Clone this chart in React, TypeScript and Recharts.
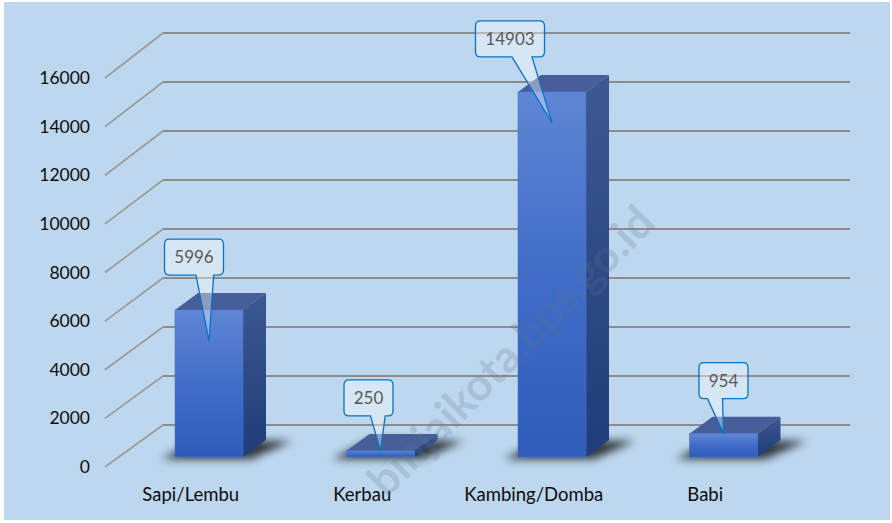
import React from 'react';
import { BarChart, Bar, XAxis, YAxis, CartesianGrid, LabelList } from 'recharts';

const categories = ['Sapi/Lembu', 'Kerbau', 'Kambing/Domba', 'Babi'];
const values = [5996, 250, 14903, 954];
const yTicks = [0, 2000, 4000, 6000, 8000, 10000, 12000, 14000, 16000];

// horizontal nudge of each callout box relative to its bar
const calloutShift = [-15, -12, -42, 0];

const data = categories.map((name, i) => ({ name, value: values[i] }));

const W = 892;
const H = 523;
const PLOT_BOTTOM = 457;
const DX = 23; // bar depth
const DY = 17;
const FONT = 'Lato, "Open Sans", sans-serif';

// front wall (labels) sits slightly lower/left of the bar plane, back wall higher/right
const frontY = (y: number) => 467 - (PLOT_BOTTOM - y) * (389 / 392);

function GridLine(props: any) {
  const y = props.y1;
  const yb = y - 32;
  return (
    <g key={props.key ?? props.index}>
      <line x1={105} y1={frontY(y)} x2={163} y2={yb} stroke="#9a9a9a" strokeWidth={1.6} />
      <line x1={163} y1={yb} x2={850} y2={yb} stroke="#8c8c8c" strokeWidth={2.2} />
    </g>
  );
}

function YTick(props: any) {
  const { y, payload } = props;
  return (
    <text x={90} y={frontY(y) + 6} textAnchor="end" fontFamily={FONT} fontSize={17.5} fill="#0d0d0d">
      {payload.value}
    </text>
  );
}

function XTick(props: any) {
  const { x, payload } = props;
  return (
    <text x={x - 18} y={501} textAnchor="middle" fontFamily={FONT} fontSize={18.5} fill="#0d0d0d">
      {payload.value}
    </text>
  );
}

function Bar3D(props: any) {
  const { x, y, width: w, height: h } = props;
  const b = y + h;
  return (
    <g>
      <polygon
        points={`${x - 14},${b + 2} ${x + w + 8},${b + 2} ${x + w + DX + 26},${b - DY + 1} ${x + DX},${b - DY}`}
        fill="#000"
        opacity={0.75}
        filter="url(#shadowBlur)"
      />
      <polygon
        points={`${x},${y} ${x + DX},${y - DY} ${x + w + DX},${y - DY} ${x + w},${y}`}
        fill="#465f9a"
      />
      <polygon
        points={`${x + w},${y} ${x + w + DX},${y - DY} ${x + w + DX},${b - DY} ${x + w},${b}`}
        fill="url(#sideGrad)"
      />
      <rect x={x} y={y} width={w} height={h} fill="url(#frontGrad)" stroke="#4d74c6" strokeWidth={0.6} />
    </g>
  );
}

function Callout(props: any) {
  const { x, y, width: w, height: h, value, index } = props;
  const cx = x + w / 2;
  const text = String(value);
  const bw = text.length * 10 + 19;
  const bh = 36;
  const bxc = cx + calloutShift[index];
  const bx = bxc - bw / 2;
  const by = y - 35 - bh;
  const tipX = cx;
  const tipY = y + (h > 50 ? 31 : 0);
  const r = 5;
  const bBot = by + bh;
  let p1: number, p2: number;
  if (tipX > bxc + 1) {
    p1 = bxc + 2;
    p2 = bxc + 2 + Math.min(20, Math.max(13, bw * 0.3));
  } else {
    p1 = bxc - 16;
    p2 = bxc - 1;
  }
  const d =
    `M${bx + r},${by} H${bx + bw - r} Q${bx + bw},${by} ${bx + bw},${by + r} ` +
    `V${bBot - r} Q${bx + bw},${bBot} ${bx + bw - r},${bBot} ` +
    `H${p2} L${tipX},${tipY} L${p1},${bBot} ` +
    `H${bx + r} Q${bx},${bBot} ${bx},${bBot - r} V${by + r} Q${bx},${by} ${bx + r},${by} Z`;
  return (
    <g>
      <path d={d} fill="#ffffff" fillOpacity={0.38} stroke="#0b72c4" strokeWidth={1.3} />
      <text x={bxc} y={by + 24} textAnchor="middle" fontFamily={FONT} fontSize={17} fill="#595959">
        {text}
      </text>
    </g>
  );
}

export default function App() {
  return (
    <div style={{ position: 'absolute', left: 0, top: 0, width: W, height: H, background: '#ffffff' }}>
      <div style={{ position: 'absolute', left: 4, top: 2, width: 886, height: 518, background: '#bdd7ee' }} />
      <div style={{ position: 'absolute', left: 0, top: 0 }}>
        <BarChart
          width={W}
          height={H}
          data={data}
          margin={{ top: 65, right: 83, bottom: 36, left: 63 }}
          barSize={68}
        >
          <defs>
            <linearGradient id="frontGrad" x1="0" y1="0" x2="0" y2="1">
              <stop offset="0%" stopColor="#5f86d4" />
              <stop offset="50%" stopColor="#416dc8" />
              <stop offset="100%" stopColor="#2e5cb8" />
            </linearGradient>
            <linearGradient id="sideGrad" x1="0" y1="0" x2="0" y2="1">
              <stop offset="0%" stopColor="#3d5892" />
              <stop offset="100%" stopColor="#1f3d7a" />
            </linearGradient>
            <filter id="shadowBlur" x="-30%" y="-100%" width="160%" height="300%">
              <feGaussianBlur stdDeviation="4" />
            </filter>
          </defs>
          <CartesianGrid vertical={false} horizontal={(p: any) => <GridLine {...p} />} />
          <XAxis
            dataKey="name"
            axisLine={false}
            tickLine={false}
            height={30}
            tick={(p: any) => <XTick {...p} />}
            interval={0}
          />
          <YAxis
            domain={[0, 16000]}
            ticks={yTicks}
            axisLine={false}
            tickLine={false}
            width={60}
            interval={0}
            tick={(p: any) => <YTick {...p} />}
          />
          <Bar dataKey="value" isAnimationActive={false} shape={(p: any) => <Bar3D {...p} />}>
            <LabelList dataKey="value" content={(p: any) => <Callout {...p} />} />
          </Bar>
        </BarChart>
      </div>
      <svg
        width={W}
        height={H}
        style={{ position: 'absolute', left: 0, top: 0, pointerEvents: 'none' }}
      >
        <text
          x={0}
          y={0}
          transform="translate(522,362) rotate(-45.4)"
          textAnchor="middle"
          fontFamily={FONT}
          fontWeight={700}
          fontSize={45}
          fill="#5f7690"
          fillOpacity={0.22}
        >
          binjaikota.bps.go.id
        </text>
      </svg>
    </div>
  );
}
